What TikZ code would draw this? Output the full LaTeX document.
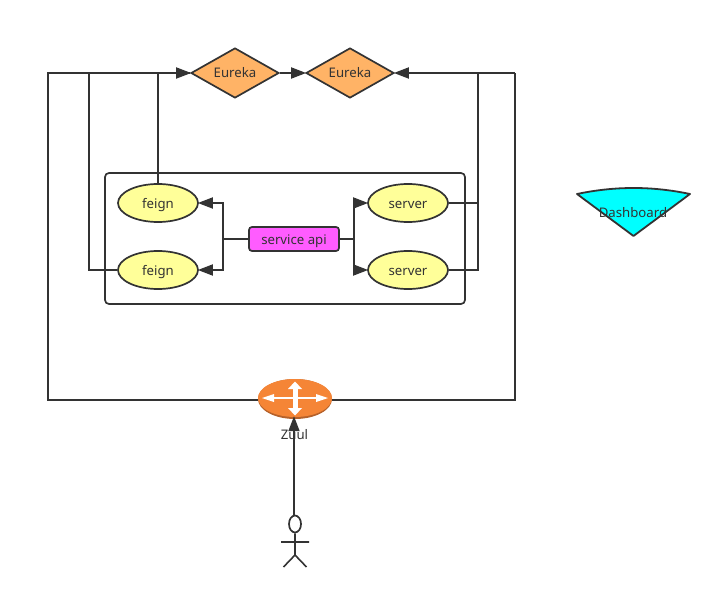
\documentclass[tikz,border=0pt]{standalone}
\usepackage{fontspec}
\setmainfont{Noto Sans}
\usetikzlibrary{shapes.geometric,arrows.meta}
\definecolor{ink}{HTML}{333333}
\definecolor{eurekafill}{HTML}{FFB366}
\definecolor{ellfill}{HTML}{FFFF99}
\definecolor{apifill}{HTML}{FF5CFF}
\definecolor{zuulfill}{HTML}{F58536}
\definecolor{zuulrim}{HTML}{B5612A}
\definecolor{dashfill}{RGB}{0,255,255}
\tikzset{
  x=1pt,y=-1pt,
  every node/.style={font=\fontsize{13.2}{15}\selectfont,text=ink,inner sep=0pt,text height=11pt,text depth=1pt},
  line/.style={draw=ink,line width=1.8pt,line join=miter},
  arr/.style={line,-{Triangle[length=15pt,width=11pt,fill=ink]},shorten >=-1pt},
  eureka/.style={diamond,draw=ink,line width=1.7pt,fill=eurekafill,minimum width=88pt,minimum height=50pt,aspect=1.76},
  oval/.style={ellipse,draw=ink,line width=1.7pt,fill=ellfill,minimum width=80pt,minimum height=38pt},
  api/.style={rectangle,rounded corners=3pt,draw=ink,line width=1.7pt,fill=apifill,minimum width=90pt,minimum height=24pt},
  group/.style={rectangle,rounded corners=4pt,draw=ink,line width=1.7pt,minimum width=360pt,minimum height=131pt},
  zuulbody/.style={ellipse,fill=zuulfill,minimum width=74pt,minimum height=38pt},
  glyph/.style={white,line width=2.4pt},
}
\begin{document}
\begin{tikzpicture}
\useasboundingbox (0,0) rectangle (721,599);
\node[group] (grp) at (285,238.5) {};
\fill[zuulrim] (295,399) ellipse [x radius=37,y radius=20];
\node[zuulbody] (zuul) at (295,398) {};
\node[eureka] (eu1) at (235,73) {Eureka};
\node[eureka] (eu2) at (350,73) {Eureka};
\node[oval] (f1) at (158,203) {feign};
\node[oval] (f2) at (158,270) {feign};
\node[oval] (s1) at (408,203) {server};
\node[oval] (s2) at (408,270) {server};
\node[api] (api) at (294,239) {service api};
\node (zlabel) at (294.5,434) {Zuul};
% actor
\node[ellipse,draw=ink,line width=1.7pt,minimum width=12pt,minimum height=14pt] (head) at (295,524) {};
\coordinate (hip) at (295,555);
\coordinate (armL) at (281,542);
\coordinate (armR) at (309,542);
\coordinate (legL) at (283.5,567);
\coordinate (legR) at (306.5,567);
\draw[line,line width=1.6pt] (head.south) -- (hip) (armL) -- (armR) (legL) -- (hip) -- (legR);
% Dashboard
\coordinate (dl) at (577,194);
\coordinate (dr) at (690,194);
\coordinate (dt) at (633.5,236);
\filldraw[line,fill=dashfill,line join=round] (dl) .. controls (615,186) and (652,186) .. (dr) -- (dt) -- cycle;
\node (dash) at (633,213) {Dashboard};
% Zuul glyph
\draw[glyph] (265,398) -- (325,398);
\draw[glyph,line width=5pt] (295,386) -- (295,411);
\fill[white] (262,398) -- (274,394) -- (274,402) -- cycle;
\fill[white] (328,398) -- (316,394) -- (316,402) -- cycle;
\fill[white] (295,381.5) -- (288,389) -- (302,389) -- cycle;
\fill[white] (295,415.5) -- (288,408) -- (302,408) -- cycle;
% connectors
\coordinate (outL) at (48,400);
\coordinate (outR) at (515,400);
\coordinate (busF) at (89,270);
\coordinate (busS) at (478,203);
\coordinate (midL) at (223,239);
\coordinate (midR) at (354,239);
\draw[arr] (eu1.east) -- (eu2.west);
\draw[line] (zuul.west |- outL) -- (outL) |- (eu1.west);
\draw[arr] (outL |- eu1.west) -- (eu1.west);
\draw[line] (f2.west) -- (busF) |- (eu1.west);
\draw[line] (f1.north) -- (f1.north |- eu1.west);
\draw[arr] (outR |- eu2.east) -- (eu2.east);
\draw[line] (zuul.east |- outR) -- (outR) -- (outR |- eu2.east);
\draw[line] (s1.east) -- (busS) -- (busS |- eu2.east);
\draw[line] (s2.east) -| (busS);
\draw[line] (api.west) -- (midL);
\draw[arr] (midL) |- (f1.east);
\draw[arr] (midL) |- (f2.east);
\draw[line] (api.east) -- (midR);
\draw[arr] (midR) |- (s1.west);
\draw[arr] (midR) |- (s2.west);
\draw[arr] ([xshift=-1pt]head.north) -- ([xshift=-1pt]zuul.south);
\end{tikzpicture}
\end{document}
